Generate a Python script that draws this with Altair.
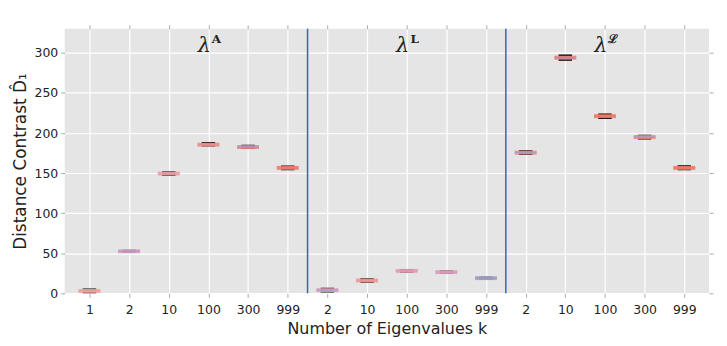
import altair as alt
import pandas as pd

# ---- data ----
groups = ["A", "L", "ℒ"]
group_sizes = [6, 5, 5]
k_labels = ["1", "2", "10", "100", "300", "999",
            "2", "10", "100", "300", "999",
            "2", "10", "100", "300", "999"]
medians = [3, 52.5, 149.5, 185.5, 182.5, 156.5,
           4, 16, 28, 26.5, 19,
           175.5, 294, 221, 195, 156.5]
q1 = [1, 51.5, 147.5, 184, 181, 154.5,
      2, 14, 26.5, 25, 18,
      173.5, 291, 218.5, 193, 154.5]
q3 = [5, 53.5, 151.5, 188, 184.5, 158.5,
      6, 18, 29.5, 28, 20,
      177.5, 297, 223.5, 197, 159]
outer_col = ["#EFA3A3", "#E8A0B8", "#E9A0A8", "#E89090", "#EE8A80", "#EE7F70",
             "#E8A0B8", "#EE9A98", "#E8A0B0", "#E8A0B8", "#A8A8C8",
             "#EE8A80", "#F08070", "#F07C68", "#EE8A80", "#F07C68"]
inner_col = ["#EFA3A3", "#A69BD6", "#E9A0A8", "#E89090", "#9A9AD0", "#EE7F70",
             "#A8A0D8", "#EE9A98", "#D8A0C0", "#C8A0C8", "#9A9ABF",
             "#A0A0D8", "#B090C0", "#F07C68", "#A0A0D8", "#F07C68"]

idx = list(range(len(k_labels)))
df = pd.DataFrame({"idx": idx, "k": k_labels, "med": medians, "q1": q1, "q3": q3,
                   "oc": outer_col, "ic": inner_col})

# separators between groups
seps = []
c = 0
for s in group_sizes[:-1]:
    c += s
    seps.append(c - 0.5)
sep_df = pd.DataFrame({"x": seps})

# group label anchor: the "100" column of each group
anchors = []
c = 0
for s in group_sizes:
    anchors.append(c + (3 if s == 6 else 2))
    c += s
lab_df = pd.DataFrame({"x": anchors, "sup": groups})

label_expr = "[" + ",".join('"%s"' % l for l in k_labels) + "][datum.value]"
yvals = [0, 50, 100, 150, 200, 250, 300]

xscale = alt.Scale(domain=[-0.5, 15.5], nice=False, zero=False)
yscale = alt.Scale(domain=[0, 330], nice=False)

base = alt.Chart(df)

x_bottom = alt.X("idx:Q", scale=xscale,
                 axis=alt.Axis(values=idx, labelExpr=label_expr,
                               title="Number of Eigenvalues k",
                               titleFontSize=16, titleFontWeight="normal",
                               titlePadding=5,
                               labelFontSize=12.5, labelPadding=6,
                               tickSize=4, tickColor="#aaaaaa",
                               domain=False, grid=True, gridColor="white",
                               gridWidth=1.2, labelColor="#222222",
                               titleColor="#222222"))
y_left = alt.Y("q1:Q", scale=yscale,
               axis=alt.Axis(values=yvals,
                             title="Distance Contrast D̂₁",
                             titleFontSize=17, titleFontWeight="normal",
                             titlePadding=5,
                             labelFontSize=12.5, labelPadding=3,
                             tickSize=4, tickColor="#aaaaaa",
                             domain=False, grid=True, gridColor="white",
                             gridWidth=1.2, labelColor="#222222",
                             titleColor="#222222"))

box = base.mark_bar(size=12, color="#555555", stroke="black", strokeWidth=1.5).encode(
    x=x_bottom, y=y_left, y2="q3:Q")

med_outer = base.mark_tick(orient="horizontal", size=22, thickness=4, opacity=0.9).encode(
    x=alt.X("idx:Q", scale=xscale, axis=None),
    y=alt.Y("med:Q", scale=yscale, axis=None),
    color=alt.Color("oc:N", scale=None))
med_inner = base.mark_tick(orient="horizontal", size=22, thickness=2).encode(
    x=alt.X("idx:Q", scale=xscale, axis=None),
    y=alt.Y("med:Q", scale=yscale, axis=None),
    color=alt.Color("ic:N", scale=None))

# mirrored tick marks on top and right
top_ticks = base.mark_point(opacity=0).encode(
    x=alt.X("idx:Q", scale=xscale,
            axis=alt.Axis(orient="top", values=idx, labels=False, title=None,
                          tickSize=4, tickColor="#aaaaaa", domain=False, grid=False)),
    y=alt.Y("med:Q", scale=yscale,
            axis=alt.Axis(orient="right", values=yvals,
                          labels=False, title=None, tickSize=4, tickColor="#aaaaaa",
                          domain=False, grid=False)))

rules = alt.Chart(sep_df).mark_rule(color="#3D5FC4", strokeWidth=1.5).encode(
    x=alt.X("x:Q", scale=xscale, axis=None))

lam = alt.Chart(lab_df).mark_text(text="λ", font="DejaVu Serif", fontSize=21,
                                  fontStyle="italic", dx=-4, baseline="alphabetic",
                                  color="#222222").encode(
    x=alt.X("x:Q", scale=xscale, axis=None), y=alt.value(23))
sup = alt.Chart(lab_df).mark_text(font="DejaVu Serif", fontSize=12, fontWeight="bold",
                                  dx=8, baseline="alphabetic", color="#222222").encode(
    x=alt.X("x:Q", scale=xscale, axis=None), y=alt.value(14), text="sup:N")

chart = alt.layer(box, med_outer, med_inner, top_ticks, rules, lam, sup).resolve_axis(
    x="independent", y="independent"
).properties(
    width=648, height=266,
    autosize=alt.AutoSizeParams(type="none"),
    padding={"left": 57, "top": 20, "right": 10, "bottom": 50},
    background="white",
).configure_view(fill="#E5E5E5", stroke=None).configure_axis(
    labelFont="DejaVu Sans", titleFont="DejaVu Sans")

chart.save("out.html", embed_options={"renderer": "svg", "actions": False})
